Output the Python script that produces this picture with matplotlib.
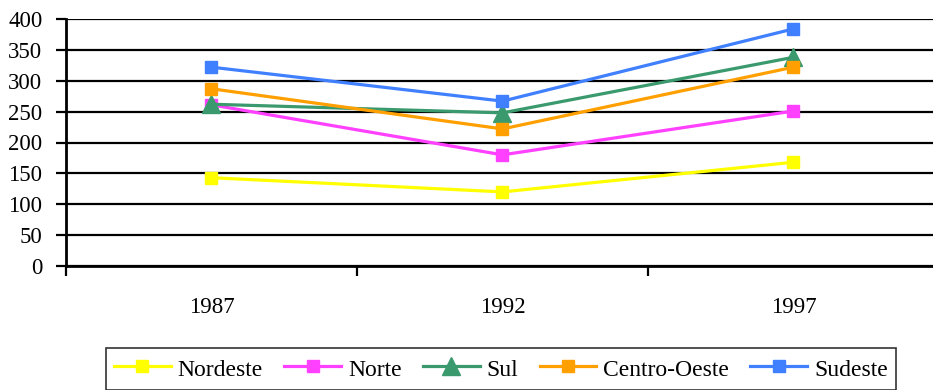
import matplotlib
matplotlib.use("Agg")
import matplotlib.pyplot as plt

years = ["1987", "1992", "1997"]
nordeste = [143, 120, 168]
norte = [261, 180, 251]
sul = [262, 248, 338]
centro_oeste = [287, 222, 322]
sudeste = [322, 267, 384]

plt.rcParams["font.family"] = ["Liberation Serif", "DejaVu Serif"]

fig = plt.figure(figsize=(9.33, 3.9), dpi=100)
ax = fig.add_axes([66 / 933, 124 / 390, 873 / 933, 247 / 390])

x = range(len(years))
series = [
    ("Nordeste", nordeste, "#FFFF00", "s", 8),
    ("Norte", norte, "#FF40FF", "s", 8),
    ("Sul", sul, "#3A9A6E", "^", 13),
    ("Centro-Oeste", centro_oeste, "#FFA000", "s", 8),
    ("Sudeste", sudeste, "#4080FF", "s", 8),
]
handles = []
for name, vals, color, marker, ms in series:
    (h,) = ax.plot(x, vals, color=color, marker=marker, markersize=ms,
                   linewidth=2.3, label=name, zorder=3)
    handles.append(h)

ax.set_xlim(-0.5, 2.5)
ax.set_ylim(0, 400)
ax.set_yticks(range(0, 401, 50))
ax.yaxis.grid(True, color="black", linewidth=1.6)
ax.set_axisbelow(True)
ax.set_xticks(list(x))
ax.set_xticklabels(years)
ax.set_xticks([-0.5, 0.5, 1.5], minor=True)
ax.tick_params(axis="x", which="major", length=0, pad=22, labelsize=16.5)
ax.tick_params(axis="x", which="minor", length=7, width=1.6, direction="out")
ax.tick_params(axis="y", length=7, width=1.6, labelsize=16.5, pad=10)

for side in ("top", "right"):
    ax.spines[side].set_visible(False)
for side in ("left", "bottom"):
    ax.spines[side].set_linewidth(2)

leg = fig.legend(handles=handles, loc="upper center", ncol=5,
                 bbox_to_anchor=(501 / 933, 42 / 390), borderaxespad=0,
                 frameon=True, fancybox=False, edgecolor="black", fontsize=17,
                 handlelength=2.4, handleheight=1.2, handletextpad=0.3,
                 columnspacing=0.9, borderpad=0.35)
leg.get_frame().set_linewidth(1.2)

fig.savefig("out.png", dpi=100)
